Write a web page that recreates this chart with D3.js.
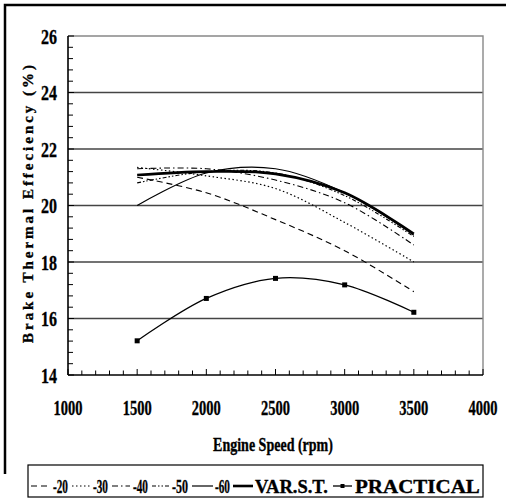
<!DOCTYPE html>
<html>
<head>
<meta charset="utf-8">
<script src="https://cdn.jsdelivr.net/npm/d3@7"></script>
<style>
  html, body { margin: 0; padding: 0; background: #fff; }
  svg { display: block; }
  text { font-family: "Liberation Serif", "Times New Roman", serif; font-weight: bold; fill: #000; stroke: #000; stroke-width: 0.35px; }
</style>
</head>
<body>
<svg id="chart" width="506" height="501"></svg>
<script>
// Engine speeds (rpm)
const speeds = [1500, 2000, 2500, 3000, 3500];

// Brake thermal efficiency (%) per spark timing setting
const seriesNames = ["-20", "-30", "-40", "-50", "-60", "VAR.S.T.", "PRACTICAL"];
const eff20 = [21.0, 20.45, 19.5, 18.4, 16.95];
const eff30 = [21.35, 21.05, 20.6, 19.4, 18.0];
const eff40 = [21.3, 21.3, 20.9, 20.1, 18.6];
const eff50 = [20.8, 21.2, 21.15, 20.35, 18.9];
const eff60 = [20.0, 21.15, 21.3, 20.45, 18.95];
const effVar = [21.08, 21.2, 21.12, 20.45, 19.0];
const effPractical = [15.21, 16.71, 17.42, 17.19, 16.22];

// Axis ticks
const xTicks = [1000, 1500, 2000, 2500, 3000, 3500, 4000];
const yTicks = [14, 16, 18, 20, 22, 24, 26];

const seriesValues = [eff20, eff30, eff40, eff50, eff60, effVar, effPractical];
const styles = [
  { dash: "6,4", width: 1.1 },
  { dash: "1.5,2.5", width: 1.2 },
  { dash: "6,3,1.5,3", width: 1.1 },
  { dash: "4,2,1.5,2,1.5,2", width: 1.1 },
  { dash: null, width: 1.2 },
  { dash: null, width: 2.6 },
  { dash: null, width: 1.3, marker: true }
];

const svg = d3.select("#chart");
const m = { left: 68, top: 36, right: 483, bottom: 375 };

const x = d3.scaleLinear().domain([1000, 4000]).range([m.left, m.right]);
const y = d3.scaleLinear().domain([14, 26]).range([m.bottom, m.top]);

// Squeeze a text horizontally to a target width with a transform
function fitWidth(sel, width) {
  sel.each(function () {
    const t = d3.select(this);
    const natural = this.getComputedTextLength();
    const k = natural > 0 ? width / natural : 1;
    const tx = +t.attr("data-x"), ty = +t.attr("data-y");
    t.attr("x", 0).attr("y", 0)
      .attr("transform", `translate(${tx},${ty}) scale(${k},1)`);
  });
}

// Outer frame
svg.append("path")
  .attr("d", "M5,474 V5 H506")
  .attr("fill", "none").attr("stroke", "#000").attr("stroke-width", 2.5);

// Gridlines
svg.append("g").selectAll("line")
  .data(yTicks.filter(v => v > 14 && v < 26))
  .join("line")
  .attr("x1", m.left).attr("x2", m.right)
  .attr("y1", d => y(d)).attr("y2", d => y(d))
  .attr("stroke", "#444").attr("stroke-width", 1.4);

// Plot area border (top / right)
svg.append("path")
  .attr("d", `M${m.left},${m.top} H${m.right} V${m.bottom}`)
  .attr("fill", "none").attr("stroke", "#888").attr("stroke-width", 1.4);

// Y axis with inner ticks
const yMinor = d3.range(14, 26.001, 0.4);
const yAxis = svg.append("g");
yAxis.selectAll("line.minor").data(yMinor).join("line")
  .attr("x1", m.left).attr("x2", d => m.left + (Math.abs(d / 2 - Math.round(d / 2)) < 1e-6 ? 6 : 5))
  .attr("y1", d => y(d)).attr("y2", d => y(d))
  .attr("stroke", "#000").attr("stroke-width", 1);
yAxis.append("line")
  .attr("x1", m.left).attr("x2", m.left).attr("y1", m.top).attr("y2", m.bottom)
  .attr("stroke", "#000").attr("stroke-width", 1.6);
yAxis.selectAll("text").data(yTicks).join("text")
  .attr("data-x", 57).attr("data-y", d => y(d) + 7.5)
  .attr("text-anchor", "end")
  .attr("font-size", 22)
  .text(d => d)
  .call(fitWidth, 16);

// X axis with inner ticks
const xMinor = d3.range(1000, 4000.001, 100);
const xAxis = svg.append("g");
xAxis.selectAll("line.minor").data(xMinor).join("line")
  .attr("x1", d => x(d)).attr("x2", d => x(d))
  .attr("y1", m.bottom).attr("y2", d => m.bottom - (d % 500 === 0 ? 6 : 4.5))
  .attr("stroke", "#000").attr("stroke-width", 1);
xAxis.append("line")
  .attr("x1", m.left).attr("x2", m.right).attr("y1", m.bottom).attr("y2", m.bottom)
  .attr("stroke", "#000").attr("stroke-width", 1.6);
xAxis.selectAll("text").data(xTicks).join("text")
  .attr("data-x", d => x(d)).attr("data-y", 415)
  .attr("text-anchor", "middle")
  .attr("font-size", 22)
  .text(d => d)
  .call(fitWidth, 29);

// Axis titles
svg.append("text")
  .attr("data-x", 273).attr("data-y", 451)
  .attr("text-anchor", "middle").attr("font-size", 19)
  .text("Engine Speed (rpm)")
  .call(fitWidth, 120);

svg.append("text")
  .attr("transform", "translate(33,204) rotate(-90)")
  .attr("text-anchor", "middle").attr("font-size", 15)
  .attr("textLength", 278).attr("lengthAdjust", "spacing")
  .text("Brake Thermal Effeciency (%)");

// Series lines
const line = d3.line()
  .x(d => x(d[0])).y(d => y(d[1]))
  .curve(d3.curveCatmullRom.alpha(0.5));

const plot = svg.append("g");
seriesValues.forEach((vals, i) => {
  const pts = speeds.map((s, j) => [s, vals[j]]);
  const st = styles[i];
  plot.append("path")
    .datum(pts)
    .attr("d", line)
    .attr("fill", "none")
    .attr("stroke", "#000")
    .attr("stroke-width", st.width)
    .attr("stroke-dasharray", st.dash);
  if (st.marker) {
    plot.selectAll(null).data(pts).join("rect")
      .attr("x", d => x(d[0]) - 2.5).attr("y", d => y(d[1]) - 2.5)
      .attr("width", 5).attr("height", 5).attr("fill", "#000");
  }
});

// Legend
const legend = svg.append("g");
legend.append("rect")
  .attr("x", 28).attr("y", 465).attr("width", 455).attr("height", 32)
  .attr("fill", "#fff").attr("stroke", "#000").attr("stroke-width", 1.2);

const legendItems = [
  { x1: 31, x2: 50, tx: 53, tw: 15 },
  { x1: 72, x2: 92, tx: 93, tw: 15 },
  { x1: 112, x2: 130, tx: 133, tw: 15 },
  { x1: 152, x2: 170, tx: 172, tw: 16 },
  { x1: 192, x2: 213, tx: 215, tw: 15 },
  { x1: 233, x2: 253, tx: 255, tw: 73 },
  { x1: 333, x2: 352, tx: 355, tw: 125 }
];
legendItems.forEach((it, i) => {
  const st = styles[i];
  legend.append("line")
    .attr("x1", it.x1).attr("x2", it.x2).attr("y1", 486).attr("y2", 486)
    .attr("stroke", "#000").attr("stroke-width", st.width)
    .attr("stroke-dasharray", st.dash);
  if (st.marker) {
    legend.append("rect")
      .attr("x", (it.x1 + it.x2) / 2 - 2).attr("y", 484)
      .attr("width", 4).attr("height", 4).attr("fill", "#000");
  }
  legend.append("text")
    .attr("data-x", it.tx).attr("data-y", 492.5)
    .attr("font-size", 19)
    .text(seriesNames[i])
    .call(fitWidth, it.tw);
});
</script>
</body>
</html>
